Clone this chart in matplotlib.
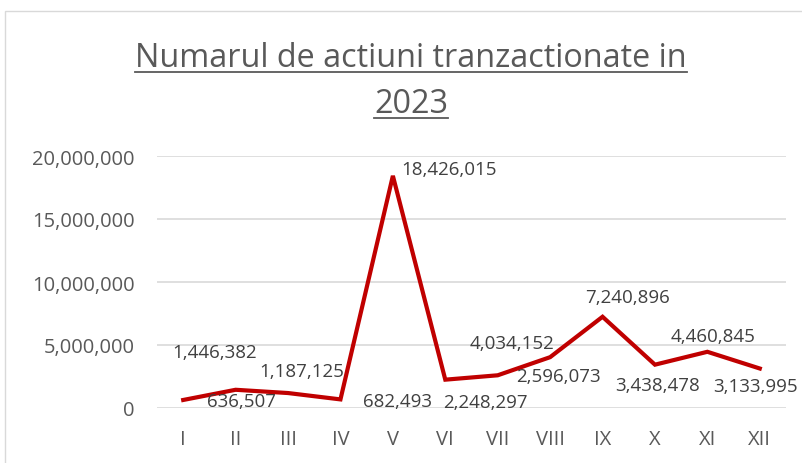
import matplotlib
matplotlib.use("Agg")
import matplotlib.pyplot as plt
from matplotlib.lines import Line2D
from matplotlib.patches import Rectangle
from matplotlib.ticker import FuncFormatter

# data
months = ["I", "II", "III", "IV", "V", "VI", "VII", "VIII", "IX", "X", "XI", "XII"]
volumes = [636507, 1446382, 1187125, 682493, 18426015, 2248297,
           2596073, 4034152, 7240896, 3438478, 4460845, 3133995]
yticks = [0, 5000000, 10000000, 15000000, 20000000]

# where Excel dropped each data label, relative to its point (pixels)
label_offsets = [(58, -1), (-21, 38), (14, 22), (57, -2), (56, 7), (40, -22),
                 (61, -1), (-38, 14), (25, 20), (3, -20), (6, 16), (-4, -17)]

plt.rcParams['font.family'] = ['Open Sans', 'DejaVu Sans']
grey = "#595959"

fig = plt.figure(figsize=(8.02, 4.64), dpi=100)
W, H = 802, 464

# chart frame
fig.add_artist(Rectangle((5 / W, 0 - 0.01), 1.02, 1 - 12 / H + 0.01,
                         transform=fig.transFigure, fill=False,
                         edgecolor="#D9D9D9", lw=1))

ax = fig.add_axes([157 / W, (H - 409) / H, (786 - 157) / W, (409 - 157) / H])
x = list(range(len(months)))
ax.plot(x, volumes, color="#C00000", lw=3.0, solid_joinstyle="miter", zorder=3)

for xi, v, (dx, dy) in zip(x, volumes, label_offsets):
    ax.annotate(f"{v:,}", (xi, v), xytext=(dx, dy), textcoords="offset pixels",
                ha="center", va="center", fontsize=13.5, color="#404040", zorder=4)

ax.set_xlim(-0.5, len(months) - 0.5)
ax.set_ylim(0, 20000000)
ax.set_xticks(x)
ax.set_xticklabels(months)
ax.set_yticks(yticks)
ax.yaxis.set_major_formatter(FuncFormatter(lambda v, p: f"{int(v):,}"))
ax.tick_params(axis="both", length=0, labelsize=14.5, labelcolor=grey)
ax.tick_params(axis="y", pad=16)
ax.tick_params(axis="x", pad=15)
ax.grid(axis="y", color="#D9D9D9", lw=1.2)
ax.set_axisbelow(True)
for s in ax.spines.values():
    s.set_visible(False)

# title, two lines, underlined like the Excel original
tx = 411 / W
t1 = fig.text(tx, 1 - 67 / H, "Numarul de actiuni tranzactionate in",
              ha="center", va="baseline", fontsize=23.3, color=grey)
t2 = fig.text(tx, 1 - 113 / H, "2023",
              ha="center", va="baseline", fontsize=23.3, color=grey)
fig.canvas.draw()
r = fig.canvas.get_renderer()
for t, uy in ((t1, 73), (t2, 119)):
    bb = t.get_window_extent(r)
    fig.add_artist(Line2D([bb.x0 / W, bb.x1 / W], [1 - uy / H, 1 - uy / H],
                          transform=fig.transFigure, color=grey, lw=1.3))

fig.savefig("out.png", dpi=100)
